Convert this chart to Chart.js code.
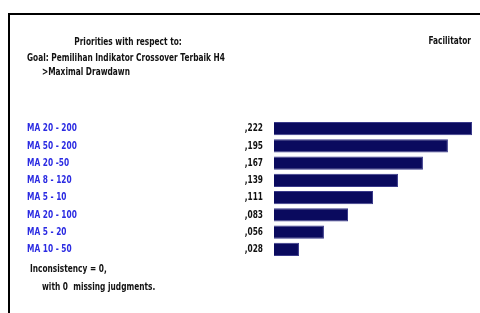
<!DOCTYPE html>
<html>
<head>
<meta charset="utf-8">
<script src="https://cdn.jsdelivr.net/npm/chart.js@4/dist/chart.umd.min.js"></script>
<style>
  html, body { margin: 0; padding: 0; background: #fff; }
  canvas { display: block; }
</style>
</head>
<body>
<canvas id="prioritiesChart" width="480" height="313"></canvas>
<script>
// Priorities data
const categories = ['MA 20 - 200', 'MA 50 - 200', 'MA 20 -50', 'MA 8 - 120', 'MA 5 - 10', 'MA 20 - 100', 'MA 5 - 20', 'MA 10 - 50'];
const priorities = [0.222, 0.195, 0.167, 0.139, 0.111, 0.083, 0.056, 0.028];
const valueLabels = [',222', ',195', ',167', ',139', ',111', ',083', ',056', ',028'];

const FONT = 'bold 11px "DejaVu Sans", Arial, sans-serif';
const SQUEEZE = 0.675; // condensed look of the original font

// text drawn with a horizontal squeeze
function squeezedText(ctx, text, x, y, align) {
  ctx.save();
  ctx.translate(x, y);
  ctx.scale(SQUEEZE, 1);
  ctx.textAlign = align;
  ctx.fillText(text, 0, 0);
  ctx.restore();
}

// Draws the frame, headings, row labels and footer text
const textPlugin = {
  id: 'ahpText',
  afterDraw: function(chart) {
    const ctx = chart.ctx;
    const yScale = chart.scales.y;
    ctx.save();

    // frame lines
    ctx.fillStyle = '#000';
    ctx.fillRect(8, 13, 472, 2);
    ctx.fillRect(8, 13, 2, 300);

    ctx.textBaseline = 'middle';
    ctx.font = FONT;
    ctx.fillStyle = '#111';
    squeezedText(ctx, 'Priorities with respect to:', 128, 42, 'center');
    squeezedText(ctx, 'Goal: Pemilihan Indikator Crossover Terbaik H4', 27, 58, 'left');
    squeezedText(ctx, '>Maximal Drawdawn', 42, 72, 'left');
    squeezedText(ctx, 'Facilitator', 471, 41, 'right');

    categories.forEach(function(name, i) {
      const y = yScale.getPixelForValue(i);
      ctx.fillStyle = '#2b2be2';
      squeezedText(ctx, name, 27, y, 'left');
      ctx.fillStyle = '#111';
      squeezedText(ctx, valueLabels[i], 263, y, 'right');
    });

    ctx.fillStyle = '#111';
    squeezedText(ctx, 'Inconsistency = 0,', 30, 269, 'left');
    squeezedText(ctx, 'with 0  missing judgments.', 42, 287, 'left');
    ctx.restore();
  }
};

new Chart(document.getElementById('prioritiesChart'), {
  type: 'bar',
  data: {
    labels: categories,
    datasets: [
      {
        data: priorities,
        backgroundColor: '#0a0a5e',
        borderColor: '#3a3a8a',
        borderWidth: 1,
        barPercentage: 0.76,
        categoryPercentage: 1
      }
    ]
  },
  options: {
    indexAxis: 'y',
    responsive: false,
    animation: false,
    layout: {
      padding: { left: 274, right: 8, top: 120, bottom: 55 }
    },
    scales: {
      x: { display: false, min: 0, max: 0.222 },
      y: { display: false }
    },
    plugins: {
      legend: { display: false },
      tooltip: { enabled: false }
    }
  },
  plugins: [textPlugin]
});
</script>
</body>
</html>
